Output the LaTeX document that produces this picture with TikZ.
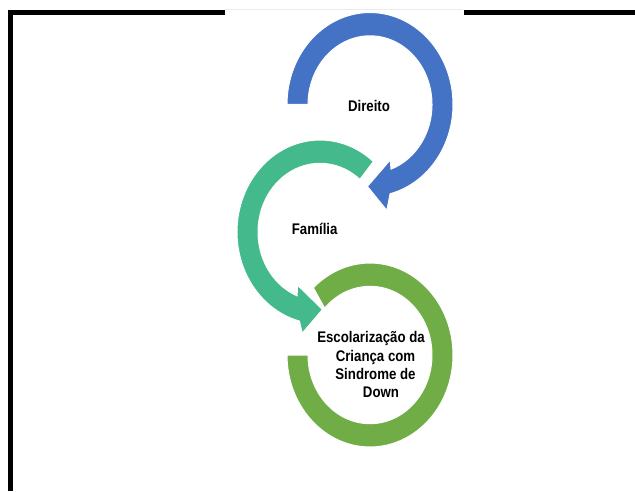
\documentclass[tikz,border=0pt]{standalone}
\usepackage{fontspec}
\newfontfamily\lblfont[FakeStretch=0.86]{Liberation Sans}
\definecolor{arblue}{HTML}{4472C4}
\definecolor{arteal}{HTML}{44B98B}
\definecolor{argreen}{HTML}{70AD47}
\begin{document}
\begin{tikzpicture}[x=1pt,y=1pt,
  arrowshape/.style={draw=white, line width=1pt, line join=miter},
  lab/.style={font=\lblfont\bfseries\fontsize{15.4}{18.3}\selectfont, text=black, inner sep=0pt, align=center},
  frame/.style={line width=5pt, black, line join=miter}]
\useasboundingbox (0,0) rectangle (635,491);
\fill[white] (0,0) rectangle (635,491);
% frame
\draw[frame] (10,0) -- (10,478.5) -- (225,478.5);
\draw[frame] (464,478.5) -- (635,478.5);
\draw[black!8, line width=0.7pt] (225,481.8) -- (463,481.8);
% olive ring
\begin{scope}[shift={(370,136)}, yscale=1.108]
\path[arrowshape, fill=argreen] (133:83) arc[start angle=133, end angle=-180, radius=83]
  -- (180:62) arc[start angle=-180, end angle=137, radius=62] -- cycle;
\end{scope}
% teal arrow
\begin{scope}[shift={(320,259)}, yscale=1.108]
\path[arrowshape, fill=arteal] (50:83) arc[start angle=50, end angle=255.6, radius=83]
  -- (259:93) -- (272:70) -- (245:53) -- (248.3:62)
  arc[start angle=248.3, end angle=50, radius=62] -- cycle;
\end{scope}
% blue arrow
\begin{scope}[shift={(370,386.5)}, yscale=1.108]
\path[arrowshape, fill=arblue] (180:83) arc[start angle=180, end angle=-76, radius=83]
  -- (-80:97) -- (-92:74) -- (-68:54) -- (-70.2:62)
  arc[start angle=-70.2, end angle=180, radius=62] -- cycle;
\end{scope}
% labels
\node[lab, anchor=base] (dir) at (369,379) {Direito};
\node[lab, anchor=base] (fam) at (314.7,257) {Família};
\node[lab, anchor=base] (esc) at (375.5,93.3) {Escolarização da\hspace*{9pt}\\Criança com\\Sindrome de\\\hspace*{11pt}Down};
\end{tikzpicture}
\end{document}
